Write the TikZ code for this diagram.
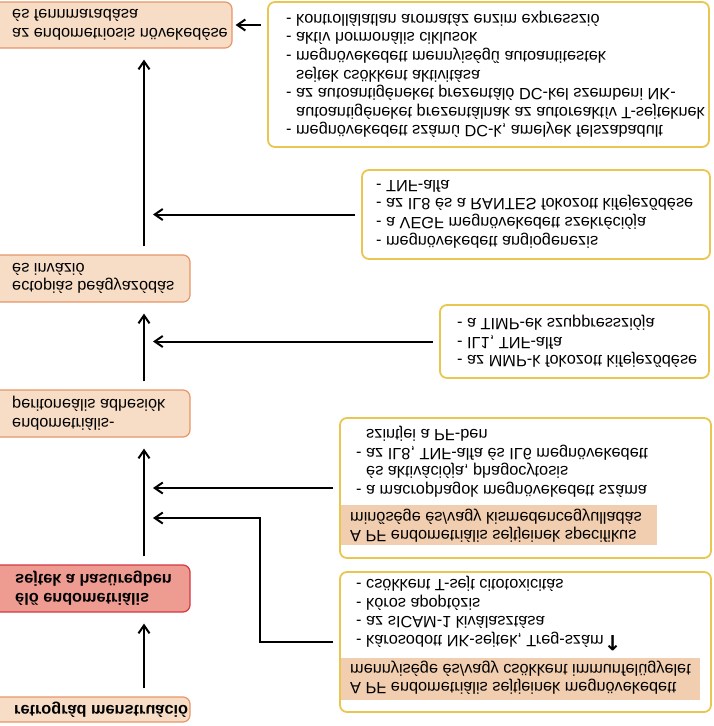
\documentclass[tikz,border=0pt]{standalone}
\usepackage{fontspec}
\setmainfont{Liberation Sans}
\newfontfamily\arrowfont{DejaVu Sans}
\usetikzlibrary{arrows.meta}
\definecolor{stagefill}{RGB}{247,221,198}
\definecolor{stageline}{RGB}{230,150,105}
\definecolor{hotfill}{RGB}{238,155,146}
\definecolor{hotline}{RGB}{212,56,64}
\definecolor{factorline}{RGB}{232,198,80}
\definecolor{stripfill}{RGB}{242,206,176}

\tikzset{
  stage/.style={draw=stageline, fill=stagefill, line width=1.2pt, rounded corners=7pt, inner sep=0pt},
  hotstage/.style={stage, draw=hotline, fill=hotfill},
  factor/.style={draw=factorline, fill=white, line width=1.8pt, rounded corners=7pt, inner sep=0pt},
  strip/.style={fill=stripfill, inner sep=0pt},
  txt/.style={anchor=west, align=left, inner sep=0pt, font=\fontsize{16.3}{18.6}\selectfont},
  flow/.style={line width=2pt, -{Straight Barb[length=8pt,width=11pt]}, shorten >=11pt, shorten <=8pt},
  flowh/.style={flow, shorten <=6pt, shorten >=0pt},
}
\newcommand{\cont}{\hspace*{10pt}}

\begin{document}
\begin{tikzpicture}[x=1pt, y=1pt, yscale=-1, transform shape]
  \useasboundingbox (0,0) rectangle (714,726);

  % stages (left column)
  \node[stage, minimum width=242pt, minimum height=46pt] (endo) at (111,25) {};
  \node[txt] (endotxt) at (12,25) {az endometriosis növekedése\\és fennmaradása};
  \node[stage, minimum width=200pt, minimum height=47pt] (ecto) at (90,278.5) {};
  \node[txt] (ectotxt) at (12,278.5) {ectopiás beágyazódás\\és invázió};
  \node[stage, minimum width=200pt, minimum height=47pt] (adh) at (90,413.5) {};
  \node[txt] (adhtxt) at (12,413.5) {endometriális-\\peritoneális adhesiók};
  \node[hotstage, minimum width=200pt, minimum height=47pt] (cells) at (90,588.5) {};
  \node[txt, font=\fontsize{16.3}{18.6}\selectfont\bfseries] (cellstxt) at (15,588.5) {élő endometriális\\sejtek a hasüregben};
  \node[stage, minimum width=200pt, minimum height=25pt] (retro) at (90,709.5) {};
  \node[txt, font=\fontsize{16.3}{18.6}\selectfont\bfseries] (retrotxt) at (14,709.5) {retrográd menstruáció};

  % factors (right column)
  \node[factor, minimum width=441pt, minimum height=145pt] (fac1) at (488.5,74.5) {};
  \node[txt] (fac1txt) at (286,74.5) {- megnövekedett számú DC-k, amelyek felszabadult\\
    \cont autoantigéneket prezentálnak az autoreaktív T-sejteknek\\
    - az autoantigéneket prezentáló DC-kel szembeni NK-\\
    \cont sejtek csökkent aktivitása\\
    - megnövekedett mennyiségű autoantitestek\\
    - aktív hormonális ciklusok\\
    - kontrollálatlan aromatáz enzim expresszió};

  \node[factor, minimum width=348pt, minimum height=89pt] (fac2) at (536,214.5) {};
  \node[txt] (fac2txt) at (376,214) {- megnövekedett angiogenezis\\
    - a VEGF megnövekedett szekréciója\\
    - az IL8 és a RANTES fokozott kifejeződése\\
    - TNF-alfa};

  \node[factor, minimum width=269pt, minimum height=73pt] (fac3) at (574.5,341.5) {};
  \node[txt] (fac3txt) at (457,341.5) {- az MMP-k fokozott kifejeződése\\
    - IL1, TNF-alfa\\
    - a TIMP-ek szuppressziója};

  \node[factor, minimum width=371pt, minimum height=140pt] (fac4) at (525.5,488) {};
  \node[strip, minimum width=316pt, minimum height=40pt] (strip4) at (499,525) {};
  \node[txt] (strip4txt) at (350,526) {A PF endometriális sejtjeinek specifikus\\
    minősége és/vagy kismedencegyulladás};
  \node[txt] (fac4txt) at (356,462) {- a macrophagok megnövekedett száma\\
    \cont és aktivációja, phagocytosis\\
    - az IL8, TNF-alfa és IL6 megnövekedett\\
    \cont szintjei a PF-ben};

  \node[factor, minimum width=371pt, minimum height=140pt] (fac5) at (525.5,642) {};
  \node[strip, minimum width=359pt, minimum height=42pt] (strip5) at (520.5,679) {};
  \node[txt] (strip5txt) at (350,678) {A PF endometriális sejtjeinek megnövekedett\\
    mennyisége és/vagy csökkent immunfelügyelet};
  \node[txt] (fac5txt) at (356,613.5) {- károsodott NK-sejtek, Treg-szám{\arrowfont\bfseries\fontsize{21}{18.6}\selectfont ↑}\\
    - az sICAM-1 kiválasztása\\
    - kóros apoptózis\\
    - csökkent T-sejt citotoxicitás};

  % arrows
  \coordinate (spine) at (144,0);
  \coordinate (tipx) at (153,0);
  \coordinate (bend) at (260,518);
  \draw[flow] (retro.south -| spine) -- (cells.north -| spine);
  \draw[flow] (cells.south -| spine) -- (adh.north -| spine);
  \draw[flow] (adh.south -| spine) -- (ecto.north -| spine);
  \draw[flow] (ecto.south -| spine) -- (endo.north -| spine);

  \draw[flowh, shorten >=3pt] (fac1.west |- endo) -- (endo.east);
  \draw[flowh] (fac2.west) -- (fac2.west -| tipx);
  \draw[flowh] (fac3.west) -- (fac3.west -| tipx);
  \draw[flowh] (fac4.west) -- (fac4.west -| tipx);
  \draw[flowh] (fac5.west) -| (bend) -- (bend -| tipx);
\end{tikzpicture}
\end{document}
